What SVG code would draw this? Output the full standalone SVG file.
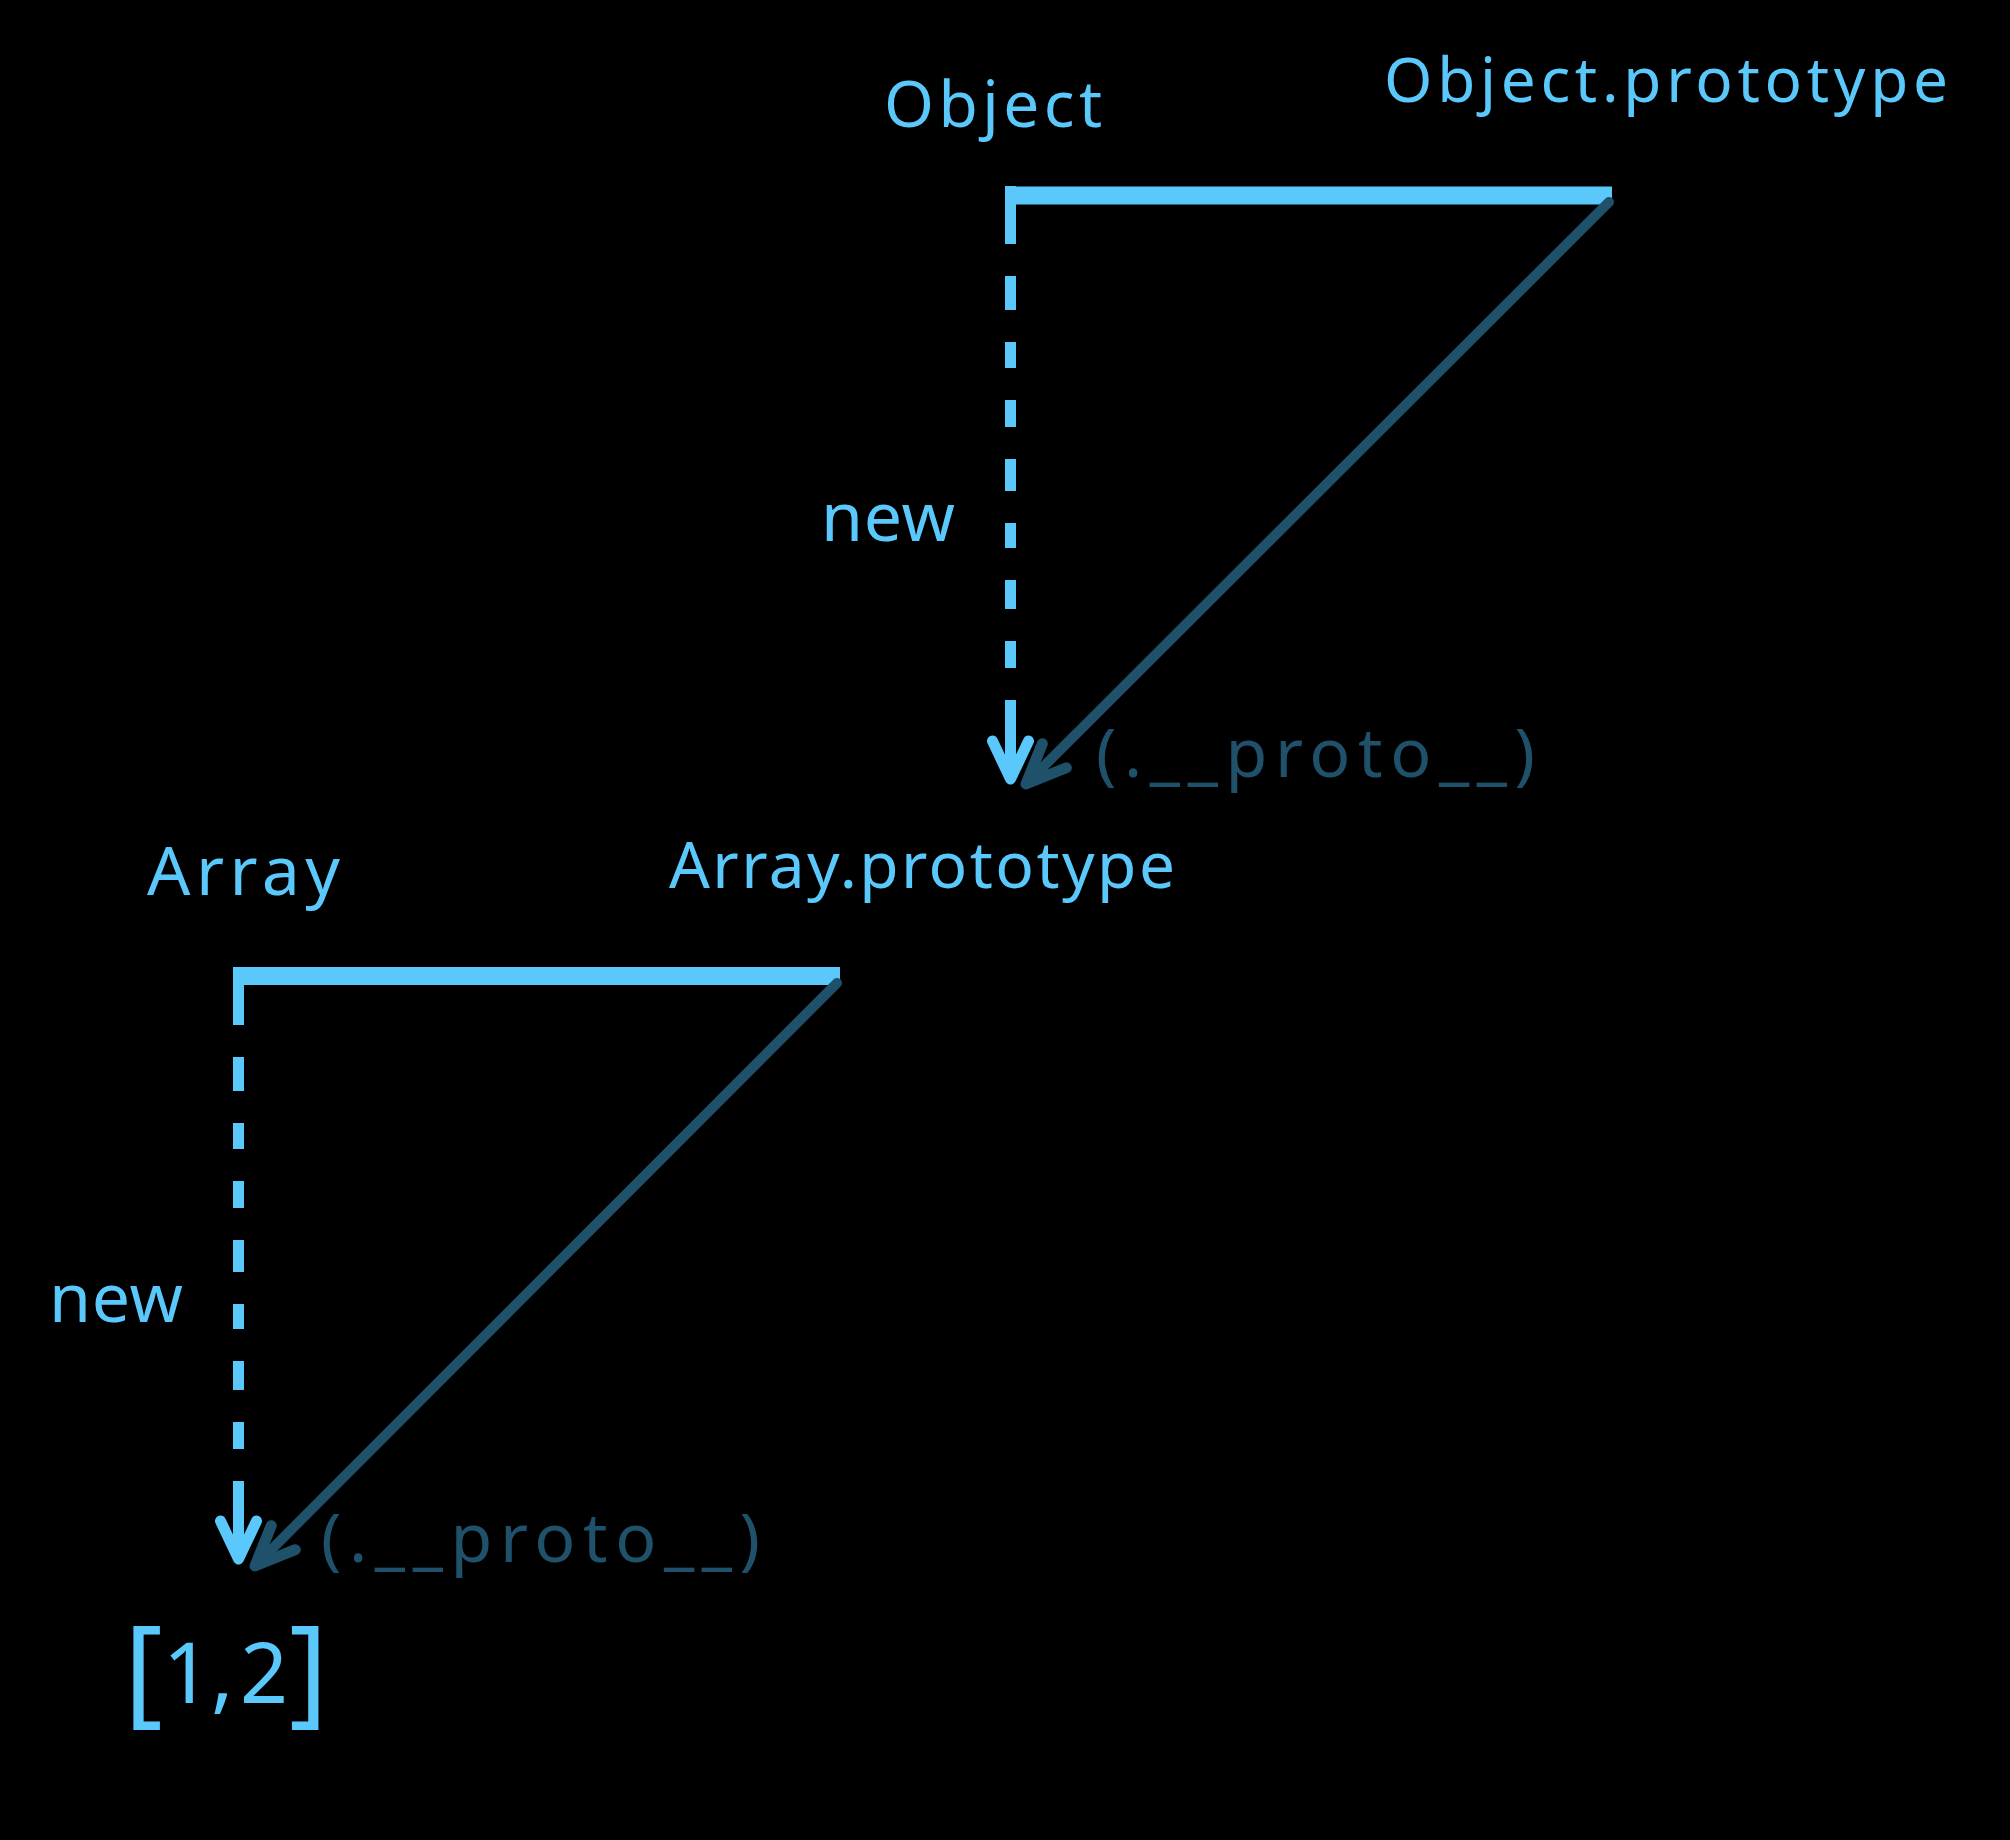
<svg xmlns="http://www.w3.org/2000/svg" width="2010" height="1840" viewBox="0 0 2010 1840">
  <style>
    .lbl { font-family: "Noto Sans", "Liberation Sans", sans-serif; fill: #5ac8fa; }
    .proto { font-family: "Noto Sans", "Liberation Sans", sans-serif; fill: #20516b; }
    .bar { fill: #5ac8fa; }
    .newline { fill: none; stroke: #5ac8fa; stroke-width: 11; stroke-dasharray: 58 32 34 32 26 32 27 32 32 32 25 32 29 32 27 32 200; }
    .protoline { fill: none; stroke: #20516b; stroke-width: 10; stroke-linecap: round; }
  </style>
  <defs>
    <marker id="arrLight" markerUnits="userSpaceOnUse" viewBox="-50 -30 60 60" markerWidth="60" markerHeight="60" refX="0" refY="0" orient="auto" overflow="visible">
      <path d="M-38,-18 L0,0 L-38,18" fill="none" stroke="#5ac8fa" stroke-width="11" stroke-linecap="round" stroke-linejoin="round"/>
    </marker>
    <marker id="arrDark" markerUnits="userSpaceOnUse" viewBox="-50 -30 60 60" markerWidth="60" markerHeight="60" refX="0" refY="0" orient="auto" overflow="visible">
      <path d="M-40,-17 L0,0 L-40,17" fill="none" stroke="#20516b" stroke-width="11" stroke-linecap="round" stroke-linejoin="round"/>
    </marker>
  </defs>
  <rect width="2010" height="1840" fill="#000000"/>

  <g id="connectors">
    <!-- Object -> Object.prototype bar -->
    <rect class="bar" x="1005" y="186.5" width="607" height="18"/>
    <!-- Object new (dashed) -->
    <path class="newline" d="M1010.5,186 V779" marker-end="url(#arrLight)"/>
    <!-- Object.prototype __proto__ -->
    <path class="protoline" d="M1609,202 L1026,784" marker-end="url(#arrDark)"/>

    <!-- Array -> Array.prototype bar -->
    <rect class="bar" x="233" y="967" width="607" height="18"/>
    <!-- Array new (dashed) -->
    <path class="newline" d="M238.5,967 V1559" marker-end="url(#arrLight)"/>
    <!-- Array.prototype __proto__ -->
    <path class="protoline" d="M837,983 L255,1566" marker-end="url(#arrDark)"/>
  </g>

  <g id="node-object">
    <text class="lbl" x="884" y="127" font-size="64" textLength="218" lengthAdjust="spacing">Object</text>
  </g>
  <g id="node-object-prototype">
    <text class="lbl" x="1384" y="102" font-size="62" textLength="564" lengthAdjust="spacing">Object.prototype</text>
  </g>
  <g id="label-new-1">
    <text class="lbl" x="821" y="541" font-size="68" textLength="134" lengthAdjust="spacing">new</text>
  </g>
  <g id="label-proto-1">
    <text class="proto" x="1096" y="777" font-size="68" textLength="439" lengthAdjust="spacing">(.__proto__)</text>
  </g>

  <g id="node-array">
    <text class="lbl" x="147" y="895" font-size="68" textLength="193" lengthAdjust="spacing">Array</text>
  </g>
  <g id="node-array-prototype">
    <text class="lbl" x="669" y="888" font-size="64" textLength="506" lengthAdjust="spacing">Array.prototype</text>
  </g>
  <g id="label-new-2">
    <text class="lbl" x="49" y="1322" font-size="68" textLength="134" lengthAdjust="spacing">new</text>
  </g>
  <g id="label-proto-2">
    <text class="proto" x="321" y="1562" font-size="68" textLength="439" lengthAdjust="spacing">(.__proto__)</text>
  </g>

  <g id="node-array-instance">
    <text class="lbl" y="1711"><tspan x="124" font-size="118">[</tspan><tspan x="163" y="1703" font-size="84">1</tspan><tspan x="211" y="1703" font-size="84">,</tspan><tspan x="240" y="1703" font-size="84">2</tspan><tspan x="289" y="1711" font-size="118">]</tspan></text>
  </g>
</svg>
